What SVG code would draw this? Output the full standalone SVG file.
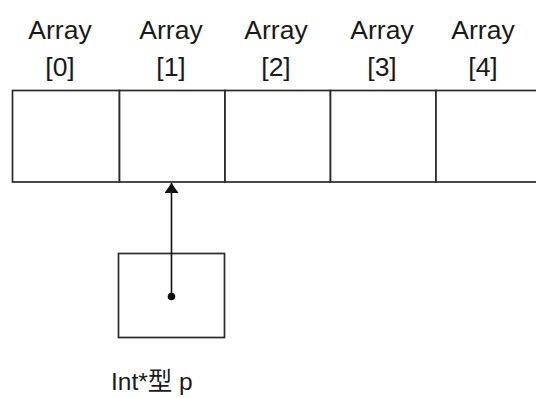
<svg xmlns="http://www.w3.org/2000/svg" width="536" height="398" viewBox="0 0 536 398">
  <style>
    .cell { fill: #ffffff; stroke: #2a2a2a; stroke-width: 1.7; }
    .lbl { font-family: "Liberation Sans", Arial, "Noto Sans CJK SC", sans-serif; font-size: 26.5px; fill: #1a1a1a; text-anchor: middle; }
    .cap { font-family: "Liberation Sans", Arial, "Noto Sans CJK SC", sans-serif; font-size: 24.5px; fill: #1a1a1a; }
    .link { stroke: #111111; stroke-width: 1.6; fill: none; }
  </style>
  <defs>
    <marker id="arrowHead" viewBox="0 0 10 14" refX="10" refY="7" markerWidth="10" markerHeight="14" markerUnits="userSpaceOnUse" orient="auto">
      <path d="M0,0 L10,7 L0,14 Z" fill="#111111"/>
    </marker>
  </defs>

  <rect width="536" height="398" fill="#ffffff"/>

  <!-- array cells -->
  <g id="array">
    <g id="cell0">
      <rect class="cell" x="12.5" y="90.5" width="107" height="91.5"/>
      <text class="lbl" x="60" y="39">Array</text>
      <text class="lbl" x="60" y="76">[0]</text>
    </g>
    <g id="cell1">
      <rect class="cell" x="119.5" y="90.5" width="105.5" height="91.5"/>
      <text class="lbl" x="171" y="39">Array</text>
      <text class="lbl" x="171" y="76">[1]</text>
    </g>
    <g id="cell2">
      <rect class="cell" x="225" y="90.5" width="105.5" height="91.5"/>
      <text class="lbl" x="276" y="39">Array</text>
      <text class="lbl" x="276" y="76">[2]</text>
    </g>
    <g id="cell3">
      <rect class="cell" x="330.5" y="90.5" width="105.5" height="91.5"/>
      <text class="lbl" x="382" y="39">Array</text>
      <text class="lbl" x="382" y="76">[3]</text>
    </g>
    <g id="cell4">
      <rect class="cell" x="436" y="90.5" width="110" height="91.5"/>
      <text class="lbl" x="483" y="39">Array</text>
      <text class="lbl" x="483" y="76">[4]</text>
    </g>
  </g>

  <!-- pointer variable p -->
  <g id="pointer">
    <rect class="cell" x="118.5" y="253.5" width="106" height="84"/>
    <text class="cap" x="111" y="390">Int*型 p</text>
  </g>

  <!-- connector: p points to Array[1] -->
  <g id="connectors">
    <line class="link" x1="171.5" y1="296.5" x2="171.5" y2="183" marker-end="url(#arrowHead)"/>
    <circle cx="171.5" cy="296.5" r="3.8" fill="#111111"/>
  </g>
</svg>
